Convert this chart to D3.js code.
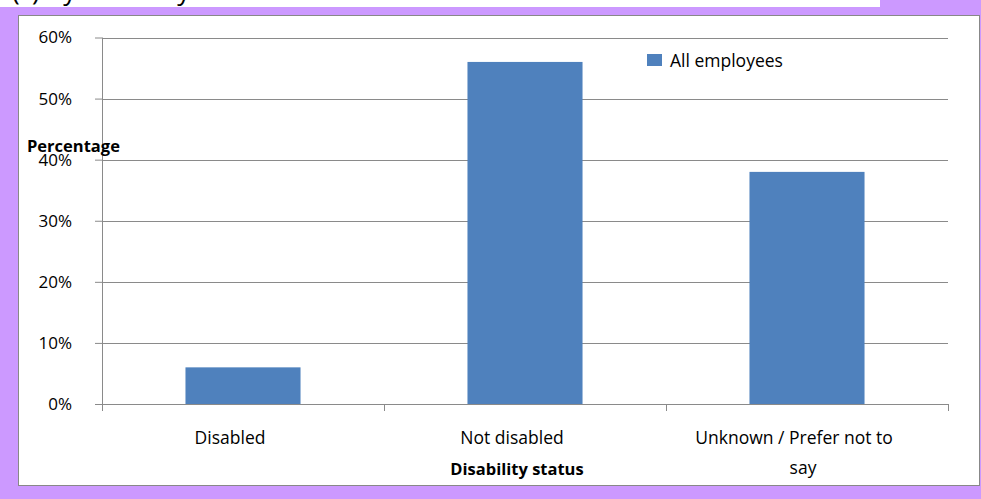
<!DOCTYPE html>
<html>
<head>
<meta charset="utf-8">
<script src="https://cdn.jsdelivr.net/npm/d3@7"></script>
<style>
  html, body { margin: 0; padding: 0; background: #ffffff; }
  svg { display: block; }
  text { font-family: "Open Sans", "DejaVu Sans", sans-serif; fill: #000; }
</style>
</head>
<body>
<svg id="chart" width="981" height="499"></svg>
<script>
// ---- data ----
const categories = ["Disabled", "Not disabled", "Unknown / Prefer not to say"];
const categoryLines = [["Disabled"], ["Not disabled"], ["Unknown / Prefer not to", "say"]];
const seriesName = "All employees";
const values = [0.06, 0.56, 0.38];
const yTicks = [0, 0.1, 0.2, 0.3, 0.4, 0.5, 0.6];
const titleText = "(c) By disability status";
const xTitle = "Disability status";
const yTitle = "Percentage";

// ---- layout ----
const W = 981, H = 499;
const svg = d3.select("#chart");
const purple = "#CC99FF";
const barColor = "#4F81BD";
const gridColor = "#8a8a8a";

// page background
svg.append("rect").attr("x", 0).attr("y", 0).attr("width", W).attr("height", H).attr("fill", purple);
svg.append("rect").attr("x", 0).attr("y", 0).attr("width", 880).attr("height", 7).attr("fill", "#fff");

// cut-off title (only lower part visible)
svg.append("clipPath").attr("id", "titleClip")
  .append("rect").attr("x", 0).attr("y", 0).attr("width", W).attr("height", 7);
svg.append("text")
  .attr("clip-path", "url(#titleClip)")
  .attr("x", 12).attr("y", 0)
  .style("font-size", "26px")
  .text(titleText);

// chart area
svg.append("rect")
  .attr("x", 18.5).attr("y", 15.5).attr("width", 961).attr("height", 470)
  .attr("fill", "#fff").attr("stroke", "#888").attr("stroke-width", 1);

const plot = { left: 102, right: 948, top: 37.5, bottom: 404 };

const y = d3.scaleLinear().domain([0, 0.6]).range([plot.bottom, plot.top]);
const x = d3.scaleBand().domain(categories).range([plot.left, plot.right])
  .paddingInner(0.592).paddingOuter(0.296);

// y axis via d3.axisLeft
const yAxis = d3.axisLeft(y).tickValues(yTicks).tickFormat(d3.format(".0%"))
  .tickSize(7).tickPadding(23);
const gy = svg.append("g").attr("transform", `translate(${plot.left},0)`).call(yAxis);
gy.select(".domain").attr("stroke", gridColor).attr("d", `M0.5,${plot.top}V${plot.bottom}`);
gy.selectAll(".tick line").attr("stroke", gridColor);
gy.selectAll(".tick text").style("font-size", "17px").style("font-family", "'Open Sans', sans-serif").attr("fill", "#000");

// gridlines
svg.append("g").selectAll("line").data(yTicks.filter(d => d > 0)).join("line")
  .attr("x1", plot.left).attr("x2", plot.right)
  .attr("y1", d => Math.round(y(d)) + 0.5).attr("y2", d => Math.round(y(d)) + 0.5)
  .attr("stroke", gridColor).attr("stroke-width", 1);

// bars
svg.append("g").selectAll("rect").data(values).join("rect")
  .attr("x", (d, i) => x(categories[i]))
  .attr("y", d => y(d))
  .attr("width", x.bandwidth())
  .attr("height", d => y(0) - y(d))
  .attr("fill", barColor);

// x axis line + category boundary ticks
const step = x.step();
const boundaries = categories.map(c => x(c) - x.paddingInner() * step / 2);
boundaries.push(plot.right);
svg.append("line").attr("x1", plot.left).attr("x2", plot.right)
  .attr("y1", Math.round(y(0)) + 0.5).attr("y2", Math.round(y(0)) + 0.5)
  .attr("stroke", gridColor);
svg.append("g").selectAll("line").data(boundaries).join("line")
  .attr("x1", d => Math.round(d) + 0.5).attr("x2", d => Math.round(d) + 0.5)
  .attr("y1", y(0)).attr("y2", y(0) + 7)
  .attr("stroke", gridColor);

// category labels
const catG = svg.append("g");
categoryLines.forEach((lines, i) => {
  const cx = x(categories[i]) + x.bandwidth() / 2;
  lines.forEach((ln, j) => {
    catG.append("text")
      .attr("x", cx + (j === 0 ? -13 : -4))
      .attr("y", 444 + j * 30)
      .attr("text-anchor", "middle")
      .style("font-size", "17.5px")
      .text(ln);
  });
});

// axis titles
svg.append("text").attr("x", 517).attr("y", 475).attr("text-anchor", "middle")
  .style("font-size", "16.5px").style("font-weight", "bold").text(xTitle);
svg.append("text").attr("x", 27).attr("y", 152)
  .style("font-size", "16.5px").style("font-weight", "bold").text(yTitle);

// legend
const lg = svg.append("g").attr("transform", "translate(647,54)");
lg.append("rect").attr("width", 15).attr("height", 12).attr("fill", barColor);
lg.append("text").attr("x", 23).attr("y", 13).style("font-size", "17.5px").text(seriesName);
</script>
</body>
</html>
